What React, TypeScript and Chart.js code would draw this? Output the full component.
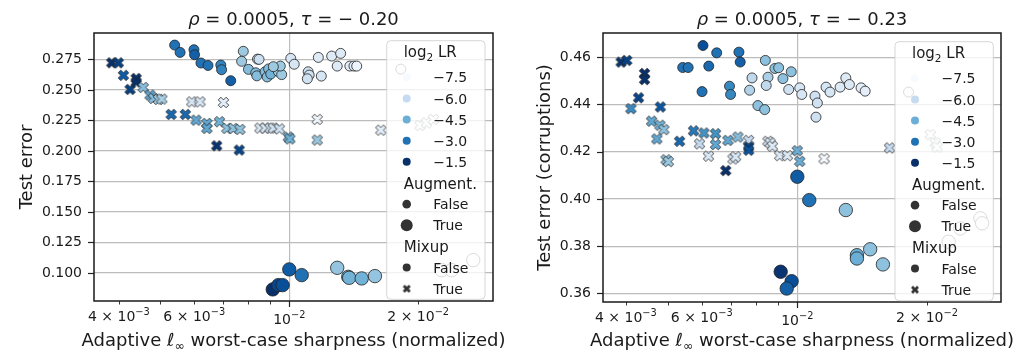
import React, { useEffect, useRef } from 'react';
import { Chart, registerables } from 'chart.js';

Chart.register(...registerables);

const FAMILY = "'DejaVu Sans', 'Liberation Sans', sans-serif";
const TEXT = '#1a1a1a';
const GRID = '#bcbcbc';
const EDGE = 'rgba(35,35,35,0.9)';
const LEGEND_GRAY = '#333333';

// ---- legend / colour scale ----
const LR_LEGEND = [-7.5, -6.0, -4.5, -3.0, -1.5];
const LR_NORM = [-7.5, -1.5];
const BLUES = ['#f7fbff', '#deebf7', '#c6dbef', '#9ecae1', '#6baed6', '#4292c6', '#2171b5', '#08519c', '#08306b'];
const AUG_LABELS = ['False', 'True'];
const MIX_LABELS = ['False', 'True'];

// ---- axes ----
const X_TICKS = [0.004, 0.005, 0.006, 0.007, 0.008, 0.009, 0.01, 0.02];
const X_TICK_LABELS = ['4 × 10^{−3}', '', '6 × 10^{−3}', '', '', '', '10^{−2}', '2 × 10^{−2}'];
const X_MAJOR = [0.01];
const X_TITLE = 'Adaptive ℓ_{∞} worst-case sharpness (normalized)';
const TITLES = ['$ρ$ = 0.0005, $τ$ = − 0.20', '$ρ$ = 0.0005, $τ$ = − 0.23'];
const Y_TITLES = ['Test error', 'Test error (corruptions)'];

// ---- left panel: test error ----
const L_PLAIN_X = [0.0054, 0.00556, 0.00599, 0.00601, 0.00622, 0.00646, 0.00692, 0.00695, 0.0073, 0.00781, 0.00774, 0.00843, 0.0085,
  0.00803, 0.00835, 0.0084, 0.00878, 0.00895, 0.00888, 0.00905, 0.00943, 0.0096, 0.00953, 0.00918,
  0.01008, 0.01027, 0.01107, 0.01113, 0.01102, 0.01169, 0.01188, 0.01256, 0.01318, 0.01294, 0.01385, 0.01416, 0.01437, 0.01822];
const L_PLAIN_Y = [0.2867, 0.2807, 0.2829, 0.2788, 0.272, 0.27, 0.2703, 0.2665, 0.2575, 0.2816, 0.2734, 0.2752, 0.275,
  0.2668, 0.264, 0.2615, 0.2648, 0.2672, 0.2606, 0.263, 0.265, 0.2625, 0.2695, 0.269,
  0.2758, 0.271, 0.2648, 0.2621, 0.2591, 0.2766, 0.2613, 0.2777, 0.2799, 0.2695, 0.2695, 0.2695, 0.2695, 0.267];
const L_PLAIN_LR = [-3, -3, -3, -2.6, -3, -3, -3.4, -3.4, -2.6, -5.25, -5.25, -6.2, -6.2,
  -4.9, -4.9, -4.9, -4.9, -4.9, -4.9, -4.6, -5.25, -5.25, -5.25, -5.25,
  -6.5, -6.5, -6.3, -6.3, -6.3, -6.75, -6.5, -6.75, -6.75, -6.75, -6.9, -7, -7.2, -7.5];

const L_MIX_X = [0.00385, 0.00399, 0.0041, 0.00425, 0.00439, 0.00439, 0.00456, 0.00473, 0.00482, 0.00495, 0.00504,
  0.0053, 0.00572, 0.00592, 0.00619, 0.00606, 0.00642, 0.00642, 0.00677, 0.00687, 0.00702, 0.00715, 0.0074, 0.00767, 0.00764,
  0.00854, 0.00878, 0.00902, 0.00918, 0.00948, 0.00995, 0.01003, 0.01162, 0.01162, 0.01636, 0.0202, 0.0209, 0.0217];
const L_MIX_Y = [0.2722, 0.2722, 0.2619, 0.2504, 0.2594, 0.2564, 0.252, 0.2457, 0.243, 0.2422, 0.2425,
  0.2299, 0.2299, 0.2402, 0.2402, 0.2252, 0.2225, 0.2184, 0.2042, 0.2239, 0.2397, 0.2184, 0.2184, 0.2176, 0.2007,
  0.2187, 0.2187, 0.2187, 0.2187, 0.218, 0.2113, 0.2098, 0.2258, 0.2089, 0.217, 0.2209, 0.223, 0.2258];
const L_MIX_LR = [-1.5, -1.9, -2.5, -1.9, -1.5, -1.5, -4.9, -4.2, -4.9, -5.3, -5.5,
  -2.8, -2.8, -6.5, -6.5, -4.3, -4.3, -4.3, -1.6, -4.6, -6.9, -5.0, -5.0, -5.0, -2.0,
  -6.6, -6.6, -6.3, -6.3, -6.3, -4.6, -4.6, -7.2, -5.2, -6.9, -7.5, -7.5, -7.5];

const L_AUG_X = [0.00915, 0.00943, 0.00965, 0.01, 0.01069, 0.01294, 0.01373, 0.0138, 0.01476, 0.01585, 0.02268, 0.02393, 0.02688];
const L_AUG_Y = [0.0865, 0.09, 0.09, 0.1029, 0.0982, 0.1042, 0.0968, 0.096, 0.0955, 0.0974, 0.1023, 0.1023, 0.1105];
const L_AUG_LR = [-1.5, -2.0, -2.2, -2.5, -3.0, -5.1, -4.6, -4.6, -4.6, -5.1, -7.5, -7.5, -7.5];

// ---- right panel: test error (corruptions) ----
const R_PLAIN_X = [0.00604, 0.0065, 0.00732, 0.00737, 0.00542, 0.00558, 0.00623, 0.00601, 0.00696, 0.007,
  0.00843, 0.00887, 0.00905, 0.00785, 0.00855, 0.00847, 0.00775, 0.00926, 0.00968, 0.0081, 0.0084,
  0.00955, 0.01013, 0.01024, 0.01099, 0.01113, 0.01105, 0.01166, 0.01191, 0.01257, 0.01296, 0.01321, 0.01406, 0.01437, 0.01812];
const R_PLAIN_Y = [0.4649, 0.4618, 0.4621, 0.4579, 0.4556, 0.4556, 0.4562, 0.4454, 0.4477, 0.4442,
  0.4586, 0.4552, 0.4555, 0.4512, 0.4515, 0.448, 0.446, 0.4509, 0.4538, 0.4395, 0.4378,
  0.4463, 0.447, 0.4442, 0.4435, 0.4406, 0.4346, 0.4473, 0.4452, 0.4473, 0.4512, 0.4484, 0.447, 0.4456, 0.4452];
const R_PLAIN_LR = [-2.2, -3.0, -3.0, -2.6, -3.0, -3.0, -2.8, -3.0, -3.5, -3.5,
  -5.0, -5.0, -5.0, -5.9, -5.5, -5.9, -5.6, -5.0, -5.0, -5.0, -5.0,
  -6.3, -6.5, -6.5, -6.3, -6.3, -6.3, -6.5, -6.5, -6.7, -6.7, -6.7, -6.9, -6.9, -7.5];

const R_MIX_X = [0.0039, 0.00402, 0.00442, 0.00442, 0.00428, 0.00411, 0.00481, 0.00459, 0.0048, 0.0049, 0.00472, 0.00496, 0.00502,
  0.00533, 0.00574, 0.00607, 0.00646, 0.00646, 0.00593, 0.00622, 0.00682, 0.0069, 0.00728, 0.00709, 0.00719,
  0.00771, 0.00771, 0.00771, 0.00855, 0.00865, 0.00875, 0.0091, 0.00948, 0.01, 0.01013, 0.01154, 0.01637, 0.02035, 0.0209, 0.0211];
const R_MIX_Y = [0.4579, 0.4586, 0.4531, 0.4505, 0.4428, 0.4382, 0.4389, 0.4329, 0.4312, 0.4293, 0.4254, 0.4166, 0.4158,
  0.4244, 0.4288, 0.4279, 0.4276, 0.423, 0.4233, 0.4181, 0.412, 0.4248, 0.4262, 0.4169, 0.4178,
  0.4248, 0.422, 0.4206, 0.4244, 0.4237, 0.4223, 0.4183, 0.4183, 0.4204, 0.4159, 0.417, 0.4216, 0.4272, 0.4237, 0.4219];
const R_MIX_LR = [-1.6, -1.9, -1.5, -1.5, -2.0, -3.6, -2.4, -4.3, -4.6, -5.0, -4.3, -5.0, -5.2,
  -2.8, -3.2, -3.8, -3.8, -4.3, -6.0, -6.6, -1.5, -4.3, -4.9, -6.6, -6.6,
  -6.0, -1.9, -2.3, -6.7, -6.7, -6.7, -6.7, -6.7, -4.5, -4.5, -7.5, -6.0, -7.5, -7.5, -7.5];

const R_AUG_X = [0.01, 0.01066, 0.01296, 0.01375, 0.01375, 0.01476, 0.0158, 0.00915, 0.0097, 0.00945, 0.02245, 0.0239, 0.0266, 0.02686];
const R_AUG_Y = [0.4094, 0.3995, 0.3953, 0.3762, 0.3748, 0.3787, 0.3723, 0.3692, 0.3652, 0.3621, 0.3819, 0.3875, 0.3918, 0.3897];
const R_AUG_LR = [-2.5, -3.0, -5.0, -4.5, -4.5, -5.0, -5.0, -1.6, -2.2, -2.6, -7.5, -7.5, -7.5, -7.5];

// ---- layout / style per panel ----
const PANELS = [
  {
    title: TITLES[0], yTitle: Y_TITLES[0],
    xMin: 0.0035, xMax: 0.0299, yMin: 0.077, yMax: 0.2966, yStep: 0.025, yDec: 3,
    yW: 94, xH: 52, padR: 22, yTitlePad: 16.3,
    legend: { x: 386.7, y: 40.7, w: 98.3, h: 258.6 },
    plain: [L_PLAIN_X, L_PLAIN_Y, L_PLAIN_LR], mix: [L_MIX_X, L_MIX_Y, L_MIX_LR], aug: [L_AUG_X, L_AUG_Y, L_AUG_LR],
  },
  {
    title: TITLES[1], yTitle: Y_TITLES[1],
    xMin: 0.00354, xMax: 0.0297, yMin: 0.3564, yMax: 0.4702, yStep: 0.02, yDec: 2,
    yW: 88, xH: 51, padR: 30, yTitlePad: 19.7,
    legend: { x: 380, y: 41.7, w: 98.3, h: 259 },
    plain: [R_PLAIN_X, R_PLAIN_Y, R_PLAIN_LR], mix: [R_MIX_X, R_MIX_Y, R_MIX_LR], aug: [R_AUG_X, R_AUG_Y, R_AUG_LR],
  },
];

function hexToRgb(h: string) {
  const n = parseInt(h.slice(1), 16);
  return [(n >> 16) & 255, (n >> 8) & 255, n & 255];
}
function blues(v: number) {
  let t = (v - LR_NORM[0]) / (LR_NORM[1] - LR_NORM[0]);
  t = Math.max(0, Math.min(1, t));
  const p = t * (BLUES.length - 1);
  const i = Math.min(BLUES.length - 2, Math.floor(p));
  const f = p - i;
  const a = hexToRgb(BLUES[i]);
  const b = hexToRgb(BLUES[i + 1]);
  const c = a.map((x, k) => Math.round(x + (b[k] - x) * f));
  return `rgb(${c[0]},${c[1]},${c[2]})`;
}

const xCache: Record<string, HTMLCanvasElement> = {};
function xMarker(fill: string, size: number, edge: string | null) {
  const key = fill + size + edge;
  if (xCache[key]) return xCache[key];
  const dim = Math.ceil(size + 4);
  const c = document.createElement('canvas');
  c.width = dim; c.height = dim;
  const g = c.getContext('2d')!;
  const cx = dim / 2;
  const pts = [[-1, -2], [0, -1], [1, -2], [2, -1], [1, 0], [2, 1], [1, 2], [0, 1], [-1, 2], [-2, 1], [-1, 0], [-2, -1]];
  g.beginPath();
  pts.forEach(([px, py], i) => {
    const X = cx + (px * size) / 4;
    const Y = cx + (py * size) / 4;
    if (i === 0) g.moveTo(X, Y); else g.lineTo(X, Y);
  });
  g.closePath();
  g.fillStyle = fill;
  g.fill();
  if (edge) { g.strokeStyle = edge; g.lineWidth = 0.9; g.stroke(); }
  xCache[key] = c;
  return c;
}

type Seg = { t: string; k: 'n' | 'i' | 'sup' | 'sub' };
function parseRich(s: string): Seg[] {
  const out: Seg[] = [];
  const re = /\$([^$]+)\$|\^\{([^}]*)\}|_\{([^}]*)\}|([^$^_]+)/g;
  let m: RegExpExecArray | null;
  while ((m = re.exec(s))) {
    if (m[1] !== undefined) out.push({ t: m[1], k: 'i' });
    else if (m[2] !== undefined) out.push({ t: m[2], k: 'sup' });
    else if (m[3] !== undefined) out.push({ t: m[3], k: 'sub' });
    else out.push({ t: m[4], k: 'n' });
  }
  return out;
}
function drawRich(ctx: CanvasRenderingContext2D, text: string, x: number, y: number, size: number, align: string, color = TEXT) {
  const segs = parseRich(text);
  const fontOf = (s: Seg) => `${s.k === 'i' ? 'italic ' : ''}${s.k === 'sup' || s.k === 'sub' ? size * 0.7 : size}px ${FAMILY}`;
  let total = 0;
  const ws = segs.map((s) => { ctx.font = fontOf(s); const w = ctx.measureText(s.t).width; total += w; return w; });
  let cx = align === 'center' ? x - total / 2 : align === 'right' ? x - total : x;
  ctx.save();
  ctx.fillStyle = color;
  ctx.textAlign = 'left';
  ctx.textBaseline = 'alphabetic';
  segs.forEach((s, i) => {
    ctx.font = fontOf(s);
    const dy = s.k === 'sup' ? -size * 0.42 : s.k === 'sub' ? size * 0.24 : 0;
    ctx.fillText(s.t, cx, y + dy);
    cx += ws[i];
  });
  ctx.restore();
}

function makePlugin(panel: any) {
  return {
    id: 'mplDecor',
    afterDatasetsDraw(chart: any) {
      const ctx: CanvasRenderingContext2D = chart.ctx;
      const a = chart.chartArea;
      const xs = chart.scales.x;
      const ys = chart.scales.y;
      ctx.save();
      // ticks
      ctx.strokeStyle = '#222';
      ys.ticks.forEach((t: any) => {
        const py = Math.round(ys.getPixelForValue(t.value)) + 0.5;
        ctx.lineWidth = 1.2;
        ctx.beginPath(); ctx.moveTo(a.left - 6, py); ctx.lineTo(a.left, py); ctx.stroke();
      });
      X_TICKS.forEach((v, i) => {
        if (v < panel.xMin || v > panel.xMax) return;
        const px = Math.round(xs.getPixelForValue(v)) + 0.5;
        const major = X_MAJOR.includes(v);
        ctx.lineWidth = major ? 1.2 : 0.9;
        ctx.beginPath(); ctx.moveTo(px, a.bottom); ctx.lineTo(px, a.bottom + (major ? 6 : 3.5)); ctx.stroke();
        const lab = X_TICK_LABELS[i];
        if (lab) drawRich(ctx, lab, xs.getPixelForValue(v), a.bottom + (major ? 22.5 : 20), 14, 'center');
      });
      // frame
      ctx.lineWidth = 1.5;
      ctx.strokeStyle = '#1a1a1a';
      ctx.strokeRect(a.left, a.top, a.right - a.left, a.bottom - a.top);
      ctx.restore();
      // titles
      const cx = (a.left + a.right) / 2;
      drawRich(ctx, panel.title, cx, 25, 18, 'center');
      drawRich(ctx, X_TITLE, cx, 346, 18, 'center');
    },
    afterDraw(chart: any) {
      const ctx: CanvasRenderingContext2D = chart.ctx;
      const L = panel.legend;
      ctx.save();
      ctx.beginPath();
      if ((ctx as any).roundRect) (ctx as any).roundRect(L.x, L.y, L.w, L.h, 4);
      else ctx.rect(L.x, L.y, L.w, L.h);
      ctx.fillStyle = 'rgba(255,255,255,0.8)';
      ctx.fill();
      ctx.strokeStyle = 'rgba(204,204,204,0.8)';
      ctx.lineWidth = 1;
      ctx.stroke();
      const mx = L.x + 20;
      const lx = L.x + 46.5;
      const sx = L.x + 17;
      const row = (i: number) => L.y + 36.6 + i * 21.14;
      const base = (cy: number) => cy + 5.1;
      drawRich(ctx, 'log_{2} LR', sx, L.y + 16.6, 15, 'left');
      LR_LEGEND.forEach((v, i) => {
        const cy = row(i);
        ctx.beginPath(); ctx.arc(mx, cy, 4, 0, Math.PI * 2); ctx.fillStyle = blues(v); ctx.fill();
        drawRich(ctx, v.toFixed(1).replace('-', '−'), lx, base(cy), 14, 'left');
      });
      drawRich(ctx, 'Augment.', sx, base(row(5)) + 0.5, 15, 'left');
      AUG_LABELS.forEach((lab, j) => {
        const cy = row(6 + j);
        ctx.beginPath(); ctx.arc(mx, cy, j === 0 ? 4.3 : 6, 0, Math.PI * 2); ctx.fillStyle = LEGEND_GRAY; ctx.fill();
        drawRich(ctx, lab, lx, base(cy), 14, 'left');
      });
      drawRich(ctx, 'Mixup', sx, base(row(8)) + 0.5, 15, 'left');
      MIX_LABELS.forEach((lab, j) => {
        const cy = row(9 + j);
        if (j === 0) {
          ctx.beginPath(); ctx.arc(mx, cy, 4, 0, Math.PI * 2); ctx.fillStyle = LEGEND_GRAY; ctx.fill();
        } else {
          const img = xMarker(LEGEND_GRAY, 8, null);
          ctx.drawImage(img, mx - img.width / 2, cy - img.height / 2);
        }
        drawRich(ctx, lab, lx, base(cy), 14, 'left');
      });
      ctx.restore();
    },
  };
}

function toPoints(g: number[][]) {
  const [xs, ys] = g;
  return xs.map((x, i) => ({ x, y: ys[i] }));
}

function buildConfig(panel: any): any {
  const datasets = [
    {
      label: 'plain', data: toPoints(panel.plain), pointStyle: 'circle', pointRadius: 5,
      pointBackgroundColor: panel.plain[2].map(blues), pointBorderColor: EDGE, pointBorderWidth: 0.9,
    },
    {
      label: 'mixup', data: toPoints(panel.mix),
      pointStyle: panel.mix[2].map((v: number) => xMarker(blues(v), 10.5, EDGE)), pointRadius: 5,
      pointBackgroundColor: panel.mix[2].map(blues), pointBorderColor: EDGE, pointBorderWidth: 0.9,
    },
    {
      label: 'augment', data: toPoints(panel.aug), pointStyle: 'circle', pointRadius: 6.7,
      pointBackgroundColor: panel.aug[2].map(blues), pointBorderColor: EDGE, pointBorderWidth: 0.9,
    },
  ];
  return {
    type: 'scatter',
    data: { datasets },
    options: {
      animation: false,
      responsive: false,
      devicePixelRatio: 1,
      events: [],
      layout: { padding: { left: 0, right: panel.padR, top: 33, bottom: 0 } },
      plugins: { legend: { display: false }, tooltip: { enabled: false }, title: { display: false } },
      scales: {
        x: {
          type: 'logarithmic', min: panel.xMin, max: panel.xMax,
          afterBuildTicks: (s: any) => { s.ticks = X_TICKS.filter((v) => v >= panel.xMin && v <= panel.xMax).map((v) => ({ value: v, major: X_MAJOR.includes(v) })); },
          afterFit: (s: any) => { s.height = panel.xH; },
          grid: { color: (c: any) => (c.tick && X_MAJOR.includes(c.tick.value) ? GRID : 'rgba(0,0,0,0)'), lineWidth: 1.2, drawTicks: false },
          border: { display: false },
          ticks: { display: false },
        },
        y: {
          min: panel.yMin, max: panel.yMax,
          afterFit: (s: any) => { s.width = panel.yW; },
          grid: { color: GRID, lineWidth: 1.2, drawTicks: false },
          border: { display: false },
          ticks: {
            stepSize: panel.yStep, includeBounds: false, padding: 12, color: TEXT,
            font: { family: FAMILY, size: 14 },
            callback: (v: any) => Number(v).toFixed(panel.yDec),
          },
          title: {
            display: true, text: panel.yTitle, color: TEXT,
            font: { family: FAMILY, size: 18 },
            padding: { top: panel.yTitlePad, bottom: 0 },
          },
        },
      },
    },
    plugins: [makePlugin(panel)],
  };
}

export default function App() {
  const leftRef = useRef<HTMLCanvasElement>(null);
  const rightRef = useRef<HTMLCanvasElement>(null);
  useEffect(() => {
    const charts = [
      new Chart(leftRef.current!, buildConfig(PANELS[0])),
      new Chart(rightRef.current!, buildConfig(PANELS[1])),
    ];
    return () => charts.forEach((c) => c.destroy());
  }, []);
  return (
    <div style={{ position: 'absolute', left: 0, top: 0, width: 1031, height: 353, background: '#ffffff', overflow: 'hidden' }}>
      <canvas ref={leftRef} width={515} height={353} style={{ position: 'absolute', left: 0, top: 0, width: 515, height: 353 }} />
      <canvas ref={rightRef} width={516} height={353} style={{ position: 'absolute', left: 515, top: 0, width: 516, height: 353 }} />
    </div>
  );
}
